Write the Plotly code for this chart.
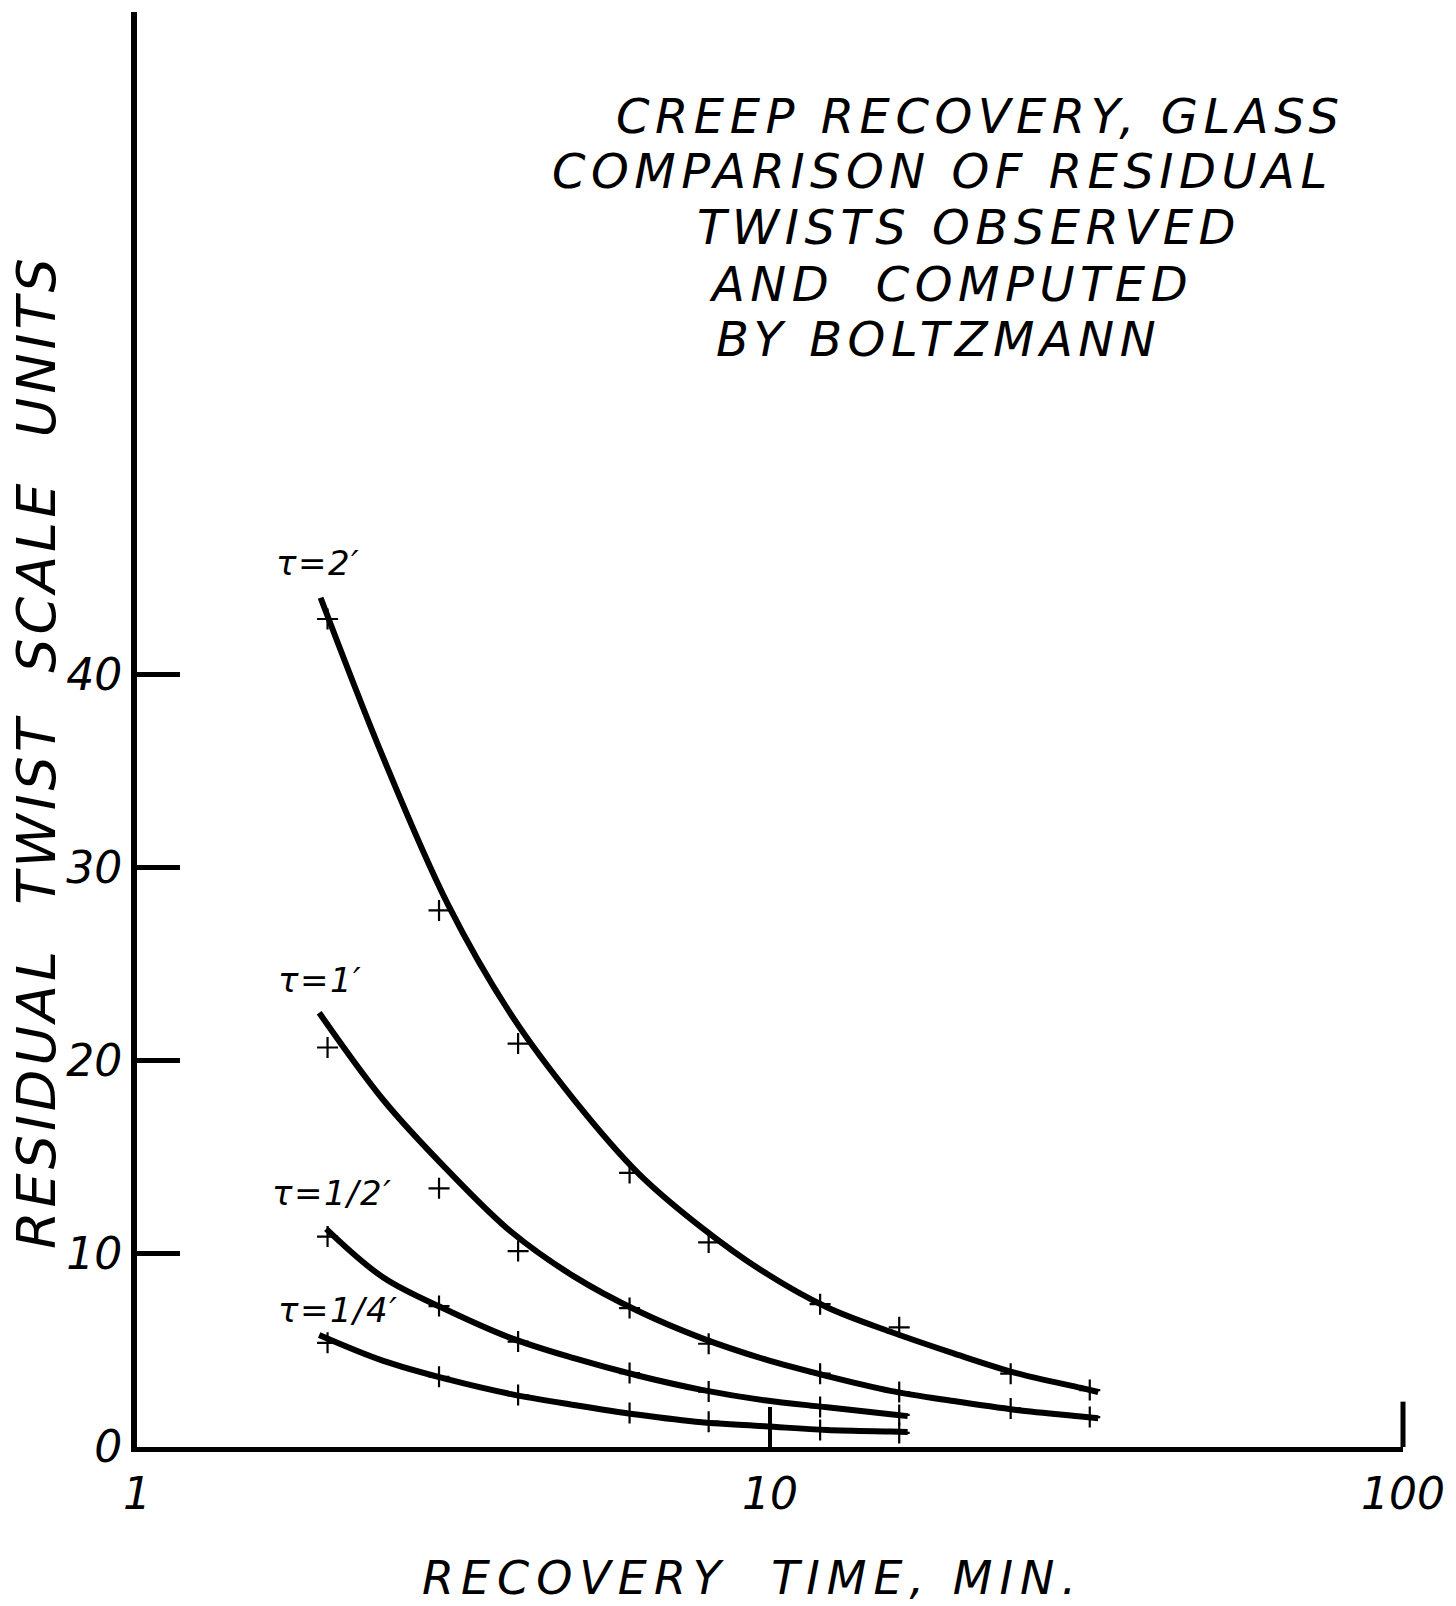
import plotly.graph_objects as go

# Recovery times (minutes) at which residual twist was observed
obs_t_long = [2, 3, 4, 6, 8, 12, 16, 24, 32]
obs_t_short = [2, 3, 4, 6, 8, 12, 16]

# Observed residual twist (scale units) for each loading time tau
obs_tau_2 = [42.9, 27.8, 20.9, 14.2, 10.6, 7.4, 6.2, 3.8, 2.95]
obs_tau_1 = [20.7, 13.4, 10.15, 7.2, 5.35, 3.8, 2.85, 2.0, 1.55]
obs_tau_half = [10.9, 7.3, 5.46, 3.83, 2.87, 2.07, 1.66]
obs_tau_quarter = [5.4, 3.64, 2.69, 1.76, 1.31, 0.88, 0.73]

# Residual twist computed by Boltzmann superposition
calc_t_2 = [1.95, 2.45, 3.1, 3.9, 4.9, 6.2, 7.8, 9.8, 12.3, 15.5, 19.5, 24.5, 31, 33]
calc_tau_2 = [44.0, 35.7, 28.1, 22.4, 18.0, 14.17, 11.37, 9.05, 7.24, 5.97, 4.85, 3.83, 3.06, 2.85]

calc_t_1 = [1.94, 2.45, 3.1, 3.9, 4.9, 6.2, 7.8, 9.8, 12.3, 15.5, 19.5, 24.5, 31, 33]
calc_tau_1 = [22.5, 17.98, 14.32, 11.15, 8.84, 7.03, 5.64, 4.55, 3.68, 2.91, 2.38, 1.92, 1.58, 1.49]

calc_t_half = [1.99, 2.45, 3.1, 3.9, 4.9, 6.2, 7.8, 9.8, 12.3, 15.5, 16.5]
calc_tau_half = [11.3, 8.78, 7.07, 5.64, 4.6, 3.69, 2.96, 2.42, 2.06, 1.7, 1.6]

calc_t_quarter = [1.94, 2.45, 3.1, 3.9, 4.9, 6.2, 7.8, 9.8, 12.3, 15.5, 16.5]
calc_tau_quarter = [5.8, 4.46, 3.5, 2.74, 2.18, 1.67, 1.28, 1.08, 0.875, 0.8, 0.78]

curve_labels = ["τ=2′", "τ=1′", "τ=1/2′", "τ=1/4′"]

x_ticks = [1, 10, 100]
x_tick_text = ["1", "10", "100"]
y_ticks = [0, 10, 20, 30, 40]
y_tick_text = ["0", "10", "20", "30", "40"]

title_lines = [
    "CREEP RECOVERY, GLASS",
    "COMPARISON OF RESIDUAL",
    "TWISTS OBSERVED",
    "AND  COMPUTED",
    "BY BOLTZMANN",
]
y_title = "RESIDUAL  TWIST  SCALE  UNITS"
x_title = "RECOVERY  TIME, MIN."

W, H = 1456, 1606
L, R, T, B = 137, 53, 12, 159
INK = "black"
FONT = "DejaVu Sans"


def px(xp, yp):
    """Convert a page pixel position to paper coordinates."""
    return (xp - L) / (W - L - R), ((H - B) - yp) / (H - B - T)


def spaced(text, gap):
    """Wide-set lettering, as drawn with a lettering guide."""
    return f'<span style="letter-spacing:{gap}px">{text}</span>'


fig = go.Figure()

curves = [
    (calc_t_2, calc_tau_2),
    (calc_t_1, calc_tau_1),
    (calc_t_half, calc_tau_half),
    (calc_t_quarter, calc_tau_quarter),
]
for t, y in curves:
    fig.add_trace(go.Scatter(
        x=t, y=y, mode="lines",
        line=dict(color=INK, width=6, shape="spline", smoothing=1.0),
        hoverinfo="skip", showlegend=False,
    ))

observed = [
    (obs_t_long, obs_tau_2),
    (obs_t_long, obs_tau_1),
    (obs_t_short, obs_tau_half),
    (obs_t_short, obs_tau_quarter),
]
for t, y in observed:
    fig.add_trace(go.Scatter(
        x=t, y=y, mode="markers",
        marker=dict(symbol="cross-thin", size=15, color=INK,
                    line=dict(color=INK, width=2.2)),
        showlegend=False,
    ))

annotations = []

# Title block, hand-lettered line by line
title_pos = [(980, 116), (942, 171), (969, 227), (951, 284), (938, 339)]
for text, (xp, yp) in zip(title_lines, title_pos):
    ax, ay = px(xp, yp)
    annotations.append(dict(
        text=spaced(text, 5.5), x=ax, y=ay, xref="paper", yref="paper",
        xanchor="center", yanchor="middle", showarrow=False,
        font=dict(family=FONT, size=48, color=INK, style="italic"),
    ))

# Labels next to the start of each curve
label_pos = [(318, 563), (320, 980), (332, 1193), (338, 1310)]
for text, (xp, yp) in zip(curve_labels, label_pos):
    ax, ay = px(xp, yp)
    annotations.append(dict(
        text=spaced(text, 1.5), x=ax, y=ay, xref="paper", yref="paper",
        xanchor="center", yanchor="middle", showarrow=False,
        font=dict(family=FONT, size=34, color=INK, style="italic"),
    ))

# Axis titles
ax, ay = px(36, 752)
annotations.append(dict(
    text=spaced(y_title, 4), x=ax, y=ay, xref="paper", yref="paper",
    xanchor="center", yanchor="middle", showarrow=False, textangle=-90,
    font=dict(family=FONT, size=54, color=INK, style="italic"),
))
ax, ay = px(752, 1578)
annotations.append(dict(
    text=spaced(x_title, 7), x=ax, y=ay, xref="paper", yref="paper",
    xanchor="center", yanchor="middle", showarrow=False,
    font=dict(family=FONT, size=46, color=INK, style="italic"),
))

tick_font = dict(family=FONT, size=44, color=INK, style="italic")

fig.update_layout(
    width=W, height=H,
    margin=dict(l=L, r=R, t=T, b=B, pad=0),
    paper_bgcolor="white", plot_bgcolor="white",
    annotations=annotations,
    # upturned end of the time axis at 100 min
    shapes=[dict(type="line", xref="paper", yref="y", x0=1, x1=1, y0=0, y1=2.35,
                 line=dict(color=INK, width=5))],
    xaxis=dict(
        type="log", range=[0, 2],
        showline=True, linewidth=5, linecolor=INK,
        ticks="inside", ticklen=40, tickwidth=4, tickcolor=INK,
        tickvals=x_ticks, ticktext=x_tick_text, tickfont=tick_font,
        ticklabelstandoff=4,
        showgrid=False, zeroline=False,
    ),
    yaxis=dict(
        range=[0, 74.35],
        showline=True, linewidth=6, linecolor=INK,
        ticks="inside", ticklen=43, tickwidth=5, tickcolor=INK,
        tickvals=y_ticks, ticktext=y_tick_text, tickfont=tick_font,
        ticklabelstandoff=0,
        showgrid=False, zeroline=False,
    ),
)

fig.write_html("out.html")
